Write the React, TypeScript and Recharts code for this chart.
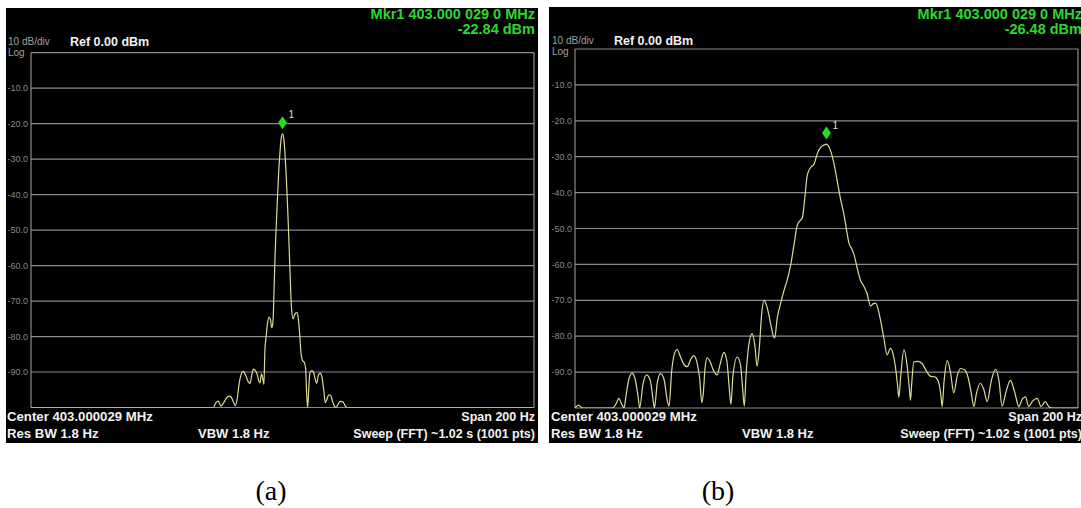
import React from 'react';
import { LineChart, Line, XAxis, YAxis, CartesianGrid, ReferenceDot } from 'recharts';

// Panel (a): frequency offset from centre (Hz) and level (dBm)
const freqA = [
  -100, -60, -30, -27.5, -26.5, -25.5, -24.5, -23.5, -22.5, -21.5,
  -20.5, -19.5, -18.8, -18, -17.2, -16.5, -15.6, -14.6, -13.6, -12.9,
  -12.2, -11.6, -10.8, -10, -9.3, -8.9, -8.4, -7.8, -7.4, -7,
  -6.5, -6, -5.4, -4.8, -4.3, -3.8, -3.4, -3, -2.5, -2,
  -1.5, -1, -0.5, 0, 0.5, 1, 1.5, 2, 2.5, 3,
  3.5, 4.2, 5, 5.7, 6.3, 6.9, 7.4, 8, 8.6, 9.2,
  9.6, 10, 10.5, 10.9, 11.6, 12.4, 13, 13.6, 14.3, 15,
  15.7, 16.4, 17, 17.6, 18.4, 19.2, 20, 20.6, 21.3, 22,
  23, 24, 25, 26, 30, 60, 100,
];
const levelA = [
  -100, -100, -100, -100, -98.6, -98.2, -99.6, -98.8, -97.6, -96.8,
  -97, -98.5, -99.5, -97.5, -93, -90.8, -89.8, -91, -92.8, -93.2,
  -90.8, -89.2, -89.6, -90.8, -92.8, -93, -90.5, -92, -93.5, -84,
  -80, -76.5, -74.5, -75.2, -77.5, -76, -68, -58, -49, -41,
  -33.5, -28, -24, -22.84, -24.2, -28.5, -35, -43, -52, -62,
  -71, -75, -73.6, -73.2, -75, -80, -85, -86.8, -87.2, -89,
  -96, -100, -94, -90.2, -89.6, -90.2, -92, -93.2, -90.8, -90.3,
  -91.5, -95, -98.6, -97.8, -96.4, -96.6, -98.5, -99.6, -100, -99.2,
  -98.3, -98.4, -99.6, -100, -100, -100, -100,
];

// Panel (b)
const freqB = [
  -100, -98.5, -97, -85, -83.5, -82.6, -81.5, -80.5, -79.8, -78.6,
  -77.3, -76, -74.8, -74.3, -73, -71.5, -70, -68.9, -68.4, -67.3,
  -66, -64.6, -63.3, -62.6, -61.6, -60.5, -59.4, -58.2, -57, -55.4,
  -54, -52.8, -51.6, -50.4, -49.6, -49, -48.3, -47.5, -46.2, -45,
  -43.5, -42.2, -40.8, -39.6, -38.6, -38, -37.2, -35.5, -34.2, -33.3,
  -32.7, -32, -31, -29.6, -28.5, -27.6, -26.8, -25.8, -24.9, -23.8,
  -22.5, -21.3, -20.6, -19.6, -18.3, -17, -15.6, -14.2, -12.8, -11.6,
  -10.5, -9.6, -8.7, -7.6, -6.3, -4.9, -3.6, -2.3, -1.1, 0,
  1.6, 3, 4.2, 5.5, 6.9, 8, 8.9, 10, 10.9, 12.2,
  13.5, 14.8, 16.2, 17.5, 18.5, 19.5, 20.5, 21.5, 22.8, 24.1,
  25.4, 26.5, 27.4, 28.3, 28.8, 29.4, 30.8, 32.1, 33, 33.4,
  33.9, 34.7, 36.3, 38, 39.8, 41.4, 43, 44.4, 45.4, 46,
  46.7, 48, 49.4, 50.6, 52, 53.3, 55, 56.3, 57.6, 58.6,
  59.6, 61.2, 62.6, 63.9, 65.5, 67.2, 68.6, 69.8, 71.4, 73.1,
  74.8, 76.5, 77.8, 79.1, 80.4, 82, 83.8, 85.3, 87, 88.5,
  90, 100,
];
const levelB = [
  -100, -99.2, -100, -100, -98.6, -97.3, -98.8, -100, -97, -92,
  -90.3, -92.2, -97.5, -100, -93.5, -90.8, -92.5, -98, -100, -93,
  -90.4, -92, -98, -99.5, -90, -85, -83.7, -85.5, -87.5, -88.5,
  -86.5, -85.4, -87, -92, -98.5, -96, -89, -86, -87.2, -89.5,
  -90.8, -87.5, -84.5, -87, -95, -99, -91, -85.8, -88, -95,
  -99.5, -91, -83, -79.3, -82.5, -88.3, -84, -74, -70, -71.5,
  -75.5, -79.5, -80.5, -75, -71, -67.5, -64.3, -60, -54, -49,
  -47.8, -47, -42, -35, -33, -32, -29, -27.4, -26.8, -26.48,
  -28.3, -32, -36.5, -41.5, -46, -50.5, -54, -55.6, -57.2, -61,
  -64.4, -66, -68.3, -71.6, -71, -70.8, -72.4, -75.6, -80.5, -85.2,
  -83.4, -85, -88.5, -94, -97, -92, -83.8, -88.5, -95, -97.8,
  -93, -87.2, -87, -87.6, -89.8, -91.2, -91.3, -92.5, -96, -99.6,
  -93, -86.8, -90.5, -95.8, -91, -89, -89.4, -91.5, -96, -99.6,
  -96, -93.1, -95, -98.2, -92.5, -89.2, -92.5, -99.5, -95.5, -92.3,
  -95.5, -99.6, -97.6, -96.9, -99.6, -98, -97.3, -99.6, -98.2, -99.7,
  -100, -100,
];

const freqTicks = [-100, -80, -60, -40, -20, 0, 20, 40, 60, 80, 100];
const levelTicks = [-100, -90, -80, -70, -60, -50, -40, -30, -20, -10, 0];
const markerFreqs = [0, 0];
const markerLevels = [-22.84, -26.48];
const markerTexts = ['-22.84 dBm', '-26.48 dBm'];

const dataA = freqA.map((f, i) => ({ f, v: levelA[i] }));
const dataB = freqB.map((f, i) => ({ f, v: levelB[i] }));

const SANS = 'Liberation Sans, Arial, sans-serif';

const markerShape = (props: any) => {
  const { cx, cy } = props;
  const c = cy - 11;
  return (
    <g>
      <path d={`M${cx},${c - 6.5}L${cx + 4.5},${c}L${cx},${c + 6.5}L${cx - 4.5},${c}Z`} fill="#22dd22" />
      <text x={cx + 6} y={c - 4.5} fill="#e4e4b4" fontSize={10} fontFamily={SANS}>1</text>
    </g>
  );
};

function Spectrum({ data, left, margin, mf, ml }: any) {
  return (
    <div style={{ position: 'absolute', left, top: 0 }}>
      <LineChart width={540} height={450} data={data} margin={margin}>
        <CartesianGrid stroke="#8c8c8c" strokeWidth={1.2} />
        <XAxis
          dataKey="f"
          type="number"
          domain={[-100, 100]}
          ticks={freqTicks}
          height={0}
          tick={false}
          axisLine={false}
          tickLine={false}
          allowDataOverflow
        />
        <YAxis
          type="number"
          domain={[-100, 0]}
          ticks={levelTicks}
          interval={0}
          width={25}
          axisLine={false}
          tickLine={false}
          tickSize={0}
          tickMargin={3}
          tick={{ fill: '#8a8a8a', fontSize: 9, fontFamily: SANS }}
          tickFormatter={(v: number) => (v === 0 || v === -100 ? '' : v.toFixed(1))}
          allowDataOverflow
        />
        <Line dataKey="v" type="monotone" stroke="#dcdc94" strokeWidth={1.2} dot={false} isAnimationActive={false} />
        <ReferenceDot x={mf} y={ml} r={0} shape={markerShape} ifOverflow="visible" />
      </LineChart>
    </div>
  );
}

function Labels({ dx, y0, right, mkr }: any) {
  return (
    <g fontFamily={SANS}>
      <text x={right} y={18.5} textAnchor="end" fill="#2bd82b" fontSize={14.5} fontWeight="bold">Mkr1 403.000 029 0 MHz</text>
      <text x={right} y={33.5} textAnchor="end" fill="#2bd82b" fontSize={14.5} fontWeight="bold">{mkr}</text>
      <text x={8 + dx} y={44.5 - y0} fill="#a0a0a0" fontSize={10}>10 dB/div</text>
      <text x={8 + dx} y={56 - y0} fill="#a0a0a0" fontSize={10}>Log</text>
      <text x={70 + dx} y={45.5 - y0} fill="#f2f2f2" fontSize={12.5} fontWeight="bold">Ref 0.00 dBm</text>
      <text x={7 + dx} y={421} fill="#f2f2f2" fontSize={13.2} fontWeight="bold">Center 403.000029 MHz</text>
      <text x={7 + dx} y={437.5} fill="#f2f2f2" fontSize={13.2} fontWeight="bold">Res BW 1.8 Hz</text>
      <text x={198 + dx} y={437.5} fill="#f2f2f2" fontSize={13} fontWeight="bold">VBW 1.8 Hz</text>
      <text x={right} y={421} textAnchor="end" fill="#f2f2f2" fontSize={12.5} fontWeight="bold">Span 200 Hz</text>
      <text x={right} y={437.5} textAnchor="end" fill="#f2f2f2" fontSize={12.5} fontWeight="bold">Sweep (FFT)  ~1.02 s (1001 pts)</text>
    </g>
  );
}

export default function App() {
  return (
    <div style={{ position: 'absolute', left: 0, top: 0, width: 1081, height: 508, overflow: 'hidden', background: '#fff' }}>
      <div style={{ position: 'absolute', left: 6, top: 8, width: 532, height: 435, background: '#000' }} />
      <div style={{ position: 'absolute', left: 549, top: 7, width: 532, height: 436, background: '#000' }} />
      <Spectrum data={dataA} left={0} margin={{ top: 52.7, right: 6, bottom: 42.5, left: 6 }} mf={markerFreqs[0]} ml={markerLevels[0]} />
      <Spectrum data={dataB} left={544} margin={{ top: 49, right: 6, bottom: 42, left: 6 }} mf={markerFreqs[1]} ml={markerLevels[1]} />
      <svg width={1081} height={508} style={{ position: 'absolute', left: 0, top: 0, pointerEvents: 'none' }}>
        <Labels dx={0} y0={0} right={535} mkr={markerTexts[0]} />
        <Labels dx={544} y0={1} right={1082} mkr={markerTexts[1]} />
        <text x={271} y={500} textAnchor="middle" fill="#000" fontSize={28} fontFamily="Liberation Serif, Times New Roman, serif">(a)</text>
        <text x={718} y={500} textAnchor="middle" fill="#000" fontSize={28} fontFamily="Liberation Serif, Times New Roman, serif">(b)</text>
      </svg>
    </div>
  );
}
